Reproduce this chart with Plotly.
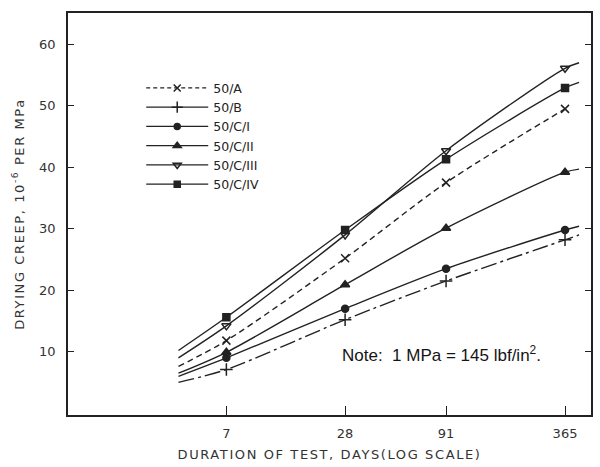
import plotly.graph_objects as go

# Test ages (days) and measured drying creep (10^-6 per MPa)
days = [7, 28, 91, 365]
series_names = ["50/A", "50/B", "50/C/I", "50/C/II", "50/C/III", "50/C/IV"]
creep_50A = [11.8, 25.2, 37.5, 49.5]
creep_50B = [7.1, 15.2, 21.5, 28.2]
creep_50CI = [9.0, 17.0, 23.5, 29.8]
creep_50CII = [9.9, 20.9, 30.1, 39.2]
creep_50CIII = [14.2, 29.0, 42.7, 56.1]
creep_50CIV = [15.6, 29.8, 41.3, 52.9]

# Fitted curves run a little past the measured ages
curve_start_day = 4.0
curve_end_day = 430.0
curve_start = [7.6, 5.0, 6.0, 6.5, 9.0, 10.2]
curve_end = [None, 29.0, 30.4, 39.7, 57.0, 53.8]

x_ticks = [7, 28, 91, 365]
y_ticks = [10, 20, 30, 40, 50, 60]

values = [creep_50A, creep_50B, creep_50CI, creep_50CII, creep_50CIII, creep_50CIV]
symbols = ["x-thin-open", "cross-thin-open", "circle", "triangle-up", "triangle-down-open", "square"]
sizes = [8, 9, 7, 8, 8, 7]
dashes = ["6px,4px", "16px,4px,3px,4px", "solid", "solid", "solid", "solid"]
legend_dashes = ["4px,3px", "solid", "solid", "solid", "solid", "solid"]

ink = "#222222"
label_color = "#333333"
fig = go.Figure()

for name, vals, sym, sz, dash, ldash, y0, y1 in zip(
        series_names, values, symbols, sizes, dashes, legend_dashes, curve_start, curve_end):
    cx = [curve_start_day] + days + ([curve_end_day] if y1 is not None else [])
    cy = [y0] + vals + ([y1] if y1 is not None else [])
    fig.add_trace(go.Scatter(
        x=cx, y=cy, mode="lines", line=dict(color=ink, width=1.4, dash=dash, shape="spline", smoothing=0.8),
        showlegend=False, hoverinfo="skip"))
    fig.add_trace(go.Scatter(
        x=days, y=vals, mode="markers", name=name, showlegend=False,
        marker=dict(symbol=sym, size=sz, color=ink, line=dict(color=ink, width=1.5))))
    # legend entry
    fig.add_trace(go.Scatter(
        x=[None], y=[None], mode="lines+markers", name=name,
        line=dict(color=ink, width=1.3, dash=ldash),
        marker=dict(symbol=sym, size=sz - 1, color=ink, line=dict(color=ink, width=1.5))))

fig.add_annotation(
    x=0.52, y=0.152, xref="paper", yref="paper", xanchor="left", yanchor="middle",
    text="Note:  1 MPa = 145 lbf/in<sup>2</sup>.", showarrow=False,
    font=dict(family="Liberation Sans, Arial, sans-serif", size=17, color="#151515"))

tick_font = dict(family="DejaVu Sans, sans-serif", size=13, color=label_color)
title_font = dict(family="DejaVu Sans, sans-serif", size=13, color=label_color)


def spaced(text):
    return '<span style="letter-spacing:1.6px">' + text + '</span>'


fig.update_layout(
    width=600, height=467,
    margin=dict(l=68, r=7, t=13, b=49),
    paper_bgcolor="white", plot_bgcolor="white",
    font=tick_font,
    legend=dict(x=0.14, y=0.85, xanchor="left", yanchor="top", bgcolor="rgba(0,0,0,0)",
                font=dict(family="DejaVu Sans, sans-serif", size=12.5, color="#222222"),
                itemwidth=62, tracegroupgap=0),
    xaxis=dict(type="log", range=[0.042, 2.694], tickvals=x_ticks, ticktext=[str(t) for t in x_ticks],
               ticks="inside", ticklen=9, tickwidth=1.2, tickcolor=ink, ticklabelstandoff=6,
               showline=True, linecolor=ink, linewidth=1.5, mirror=True, showgrid=False, zeroline=False,
               tickfont=tick_font,
               title=dict(text=spaced("DURATION OF TEST, DAYS(LOG SCALE)"), standoff=10, font=title_font)),
    yaxis=dict(range=[-0.3, 65.1], tickvals=y_ticks,
               ticks="inside", ticklen=6, tickwidth=1.2, tickcolor=ink, ticklabelstandoff=8,
               showline=True, linecolor=ink, linewidth=1.5, mirror="ticks", showgrid=False, zeroline=False,
               tickfont=tick_font,
               title=dict(text=spaced("DRYING CREEP, 10<sup>-6</sup> PER MPa"), standoff=12, font=title_font)),
)

fig.write_html("out.html")
